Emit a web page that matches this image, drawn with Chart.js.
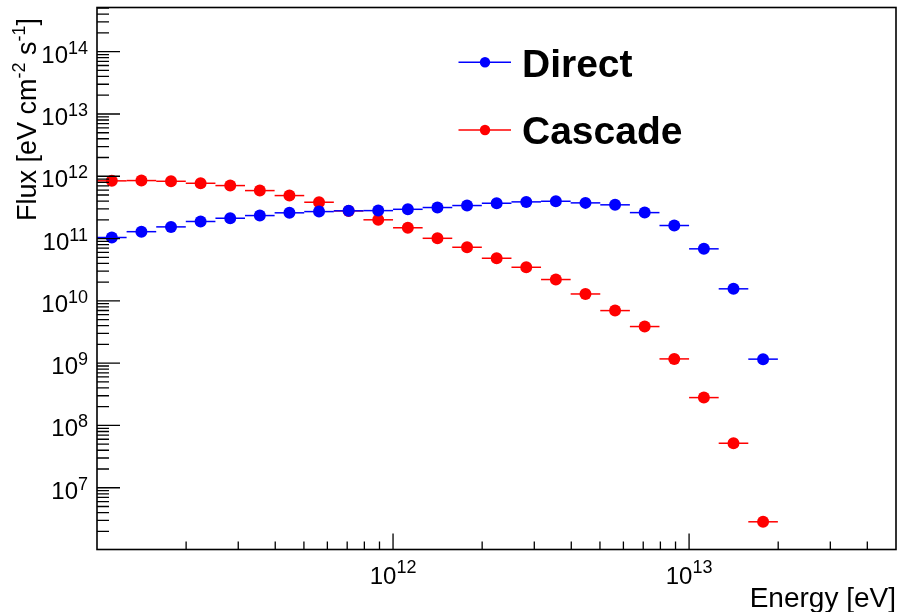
<!DOCTYPE html>
<html>
<head>
<meta charset="utf-8">
<script src="https://cdn.jsdelivr.net/npm/chart.js@4.4.1/dist/chart.umd.min.js"></script>
<style>
  html, body { margin: 0; padding: 0; background: #fff; }
</style>
</head>
<body>
<canvas id="chart" width="898" height="612"></canvas>
<script>
// energy bin edges [eV], 10 bins per decade
const binEdges = [1.000e11, 1.259e11, 1.585e11, 1.995e11, 2.512e11, 3.162e11, 3.981e11, 5.012e11,
                  6.310e11, 7.943e11, 1.000e12, 1.259e12, 1.585e12, 1.995e12, 2.512e12, 3.162e12,
                  3.981e12, 5.012e12, 6.310e12, 7.943e12, 1.000e13, 1.259e13, 1.585e13, 1.995e13];

// flux per bin [eV cm^-2 s^-1]
const directFlux = [1.04e11, 1.29e11, 1.54e11, 1.88e11, 2.12e11, 2.34e11, 2.59e11, 2.71e11,
                    2.79e11, 2.81e11, 2.95e11, 3.15e11, 3.39e11, 3.69e11, 3.88e11, 3.97e11,
                    3.74e11, 3.48e11, 2.61e11, 1.62e11, 6.84e10, 1.56e10, 1.16e9];
const cascadeFlux = [8.44e11, 8.53e11, 8.31e11, 7.72e11, 7.09e11, 5.89e11, 4.90e11, 3.83e11,
                     2.78e11, 2.00e11, 1.49e11, 1.01e11, 7.25e10, 4.83e10, 3.46e10, 2.20e10,
                     1.29e10, 6.98e9, 3.87e9, 1.17e9, 2.80e8, 5.18e7, 2.84e6];

const seriesNames = ['Direct', 'Cascade'];
const seriesColors = ['#0000ff', '#ff0000'];

// decades that get a labelled major tick
const xDecades = [12, 13];
const yDecades = [7, 8, 9, 10, 11, 12, 13, 14];

const FONT = '"Liberation Sans", Arial, Helvetica, sans-serif';

function toPoints(flux) {
    return flux.map(function (v, i) {
        const lo = binEdges[i], hi = binEdges[i + 1];
        return { x: Math.sqrt(lo * hi), y: v, lo: lo, hi: hi };
    });
}

// minor tick values 2..9 x 10^k inside [min, max]
function logMinors(min, max) {
    const out = [];
    for (let k = Math.floor(Math.log10(min)); k <= Math.ceil(Math.log10(max)); k++) {
        for (let m = 2; m <= 9; m++) {
            const v = m * Math.pow(10, k);
            if (v > min && v < max) out.push(v);
        }
    }
    return out;
}

// draws "10" with a superscript exponent
function drawPow(ctx, exp, x, y, align, baseSize, supSize, supRise) {
    ctx.font = baseSize + 'px ' + FONT;
    const wb = ctx.measureText('10').width;
    ctx.font = supSize + 'px ' + FONT;
    const ws = ctx.measureText(String(exp)).width;
    let x0 = x;
    if (align === 'center') x0 = x - (wb + ws) / 2;
    if (align === 'right') x0 = x - (wb + ws);
    ctx.textAlign = 'left';
    ctx.textBaseline = 'alphabetic';
    ctx.font = baseSize + 'px ' + FONT;
    ctx.fillText('10', x0, y);
    ctx.font = supSize + 'px ' + FONT;
    ctx.fillText(String(exp), x0 + wb, y - supRise);
}

// text made of pieces, some of them superscript; returns width
function drawPieces(ctx, pieces, x, y, size, supSize, supRise, measureOnly) {
    let cx = x;
    pieces.forEach(function (p) {
        ctx.font = (p[1] ? supSize : size) + 'px ' + FONT;
        if (!measureOnly) ctx.fillText(p[0], cx, p[1] ? y - supRise : y);
        cx += ctx.measureText(p[0]).width;
    });
    return cx - x;
}

const rootStyle = {
    id: 'rootStyle',
    beforeDatasetDraw: function (chart, args) {
        // horizontal bars showing the bin width
        const ctx = chart.ctx;
        const xs = chart.scales.x, ys = chart.scales.y;
        const ds = chart.data.datasets[args.index];
        ctx.save();
        ctx.strokeStyle = ds.borderColor;
        ctx.lineWidth = 1.5;
        ds.data.forEach(function (p) {
            const py = ys.getPixelForValue(p.y);
            ctx.beginPath();
            ctx.moveTo(xs.getPixelForValue(p.lo), py);
            ctx.lineTo(xs.getPixelForValue(p.hi), py);
            ctx.stroke();
        });
        ctx.restore();
    },
    afterDraw: function (chart) {
        const ctx = chart.ctx;
        const a = chart.chartArea;
        const xs = chart.scales.x, ys = chart.scales.y;
        ctx.save();
        ctx.fillStyle = '#000';
        ctx.strokeStyle = '#000';

        // ticks pointing into the frame
        ctx.lineWidth = 1.3;
        ctx.beginPath();
        logMinors(xs.min, xs.max).forEach(function (v) {
            const px = xs.getPixelForValue(v);
            ctx.moveTo(px, a.bottom);
            ctx.lineTo(px, a.bottom - 8);
        });
        xDecades.forEach(function (d) {
            const px = xs.getPixelForValue(Math.pow(10, d));
            ctx.moveTo(px, a.bottom);
            ctx.lineTo(px, a.bottom - 16);
        });
        logMinors(ys.min, ys.max).forEach(function (v) {
            const py = ys.getPixelForValue(v);
            ctx.moveTo(a.left, py);
            ctx.lineTo(a.left + 12, py);
        });
        yDecades.forEach(function (d) {
            const py = ys.getPixelForValue(Math.pow(10, d));
            ctx.moveTo(a.left, py);
            ctx.lineTo(a.left + 23, py);
        });
        ctx.stroke();

        // frame
        ctx.lineWidth = 1.6;
        ctx.strokeRect(a.left, a.top, a.right - a.left, a.bottom - a.top);

        // tick labels
        xDecades.forEach(function (d) {
            drawPow(ctx, d, xs.getPixelForValue(Math.pow(10, d)), a.bottom + 34, 'center', 24, 18, 10.5);
        });
        yDecades.forEach(function (d) {
            drawPow(ctx, d, a.left - 9, ys.getPixelForValue(Math.pow(10, d)) + 11, 'right', 24, 18, 9);
        });

        // axis titles
        ctx.textAlign = 'left';
        ctx.textBaseline = 'alphabetic';
        ctx.font = '28px ' + FONT;
        const xt = 'Energy [eV]';
        ctx.fillText(xt, a.right - ctx.measureText(xt).width, 606.5);

        const yt = [['Flux [eV cm', false], ['-2', true], [' s', false], ['-1', true], [']', false]];
        ctx.save();
        ctx.translate(35.5, 18);
        ctx.rotate(-Math.PI / 2);
        const w = drawPieces(ctx, yt, 0, 0, 27, 18, 11, true);
        drawPieces(ctx, yt, -w, 0, 27, 18, 11, false);
        ctx.restore();

        // legend
        const rows = [62.3, 130];
        seriesNames.forEach(function (name, i) {
            const y = rows[i];
            ctx.strokeStyle = seriesColors[i];
            ctx.fillStyle = seriesColors[i];
            ctx.lineWidth = 1.5;
            ctx.beginPath();
            ctx.moveTo(458.5, y);
            ctx.lineTo(511, y);
            ctx.stroke();
            ctx.beginPath();
            ctx.arc(485, y, 5.2, 0, Math.PI * 2);
            ctx.fill();
            ctx.fillStyle = '#000';
            ctx.font = 'bold 39px ' + FONT;
            ctx.fillText(name, 522, y + 14.2);
        });
        ctx.restore();
    }
};

new Chart(document.getElementById('chart'), {
    type: 'scatter',
    data: {
        datasets: [directFlux, cascadeFlux].map(function (flux, i) {
            return {
                label: seriesNames[i],
                data: toPoints(flux),
                backgroundColor: seriesColors[i],
                borderColor: seriesColors[i],
                borderWidth: 0,
                pointRadius: 6,
                pointHoverRadius: 6,
                showLine: false
            };
        })
    },
    options: {
        responsive: false,
        animation: false,
        devicePixelRatio: 1,
        layout: { autoPadding: false, padding: { left: 97, right: 2, top: 7.5, bottom: 62.5 } },
        scales: {
            x: { type: 'logarithmic', min: 1e11, max: 5e13, display: false },
            y: { type: 'logarithmic', min: 1.02e6, max: 5.12e14, display: false }
        },
        plugins: {
            legend: { display: false },
            tooltip: { enabled: false }
        }
    },
    plugins: [rootStyle]
});
</script>
</body>
</html>
